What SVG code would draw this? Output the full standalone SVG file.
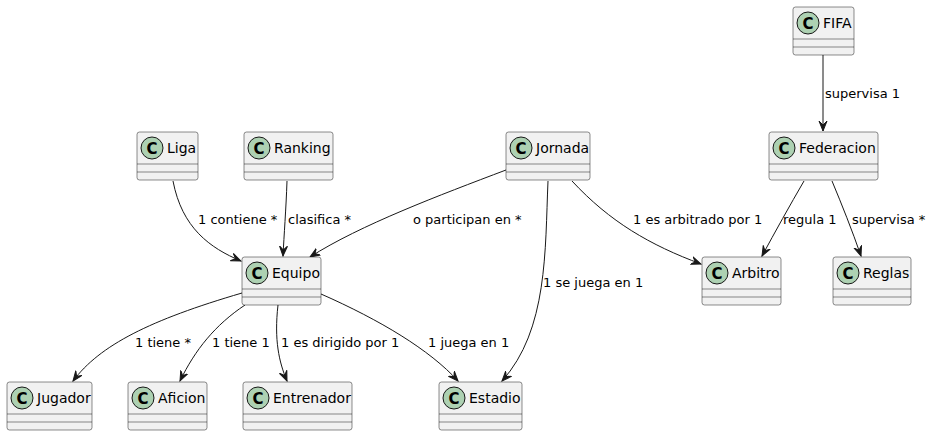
<svg xmlns="http://www.w3.org/2000/svg" width="931" height="436" viewBox="0 0 931 436">
<defs>
<style>
.box{fill:#F1F1F1;stroke:#181818;stroke-width:0.5}
.sep{stroke:#181818;stroke-width:0.5}
.ic{fill:#ADD1B2;stroke:#181818;stroke-width:1}
.icl{font-family:"DejaVu Sans",sans-serif;font-size:15px;font-weight:bold;fill:#000;text-anchor:middle}
.nm{font-family:"DejaVu Sans",sans-serif;font-size:14px;fill:#000}
.lb{font-family:"DejaVu Sans",sans-serif;font-size:13px;fill:#000}
.ln{fill:none;stroke:#181818;stroke-width:1;marker-end:url(#ah)}
</style>
<marker id="ah" markerUnits="userSpaceOnUse" markerWidth="20" markerHeight="20" viewBox="-10 -10 20 20" refX="0" refY="0" orient="auto">
<path d="M0,0 L-10,-4 L-6,0 L-10,4 Z" fill="#181818" stroke="#181818" stroke-width="1"/>
</marker>
</defs>
<rect width="931" height="436" fill="#FFFFFF"/>

<g id="connectors">
<path class="ln" d="M823,55 L823,131"/>
<path class="ln" d="M173,181 C182,228 210,248 241,261"/>
<path class="ln" d="M287,181 C286,210 284,235 283,256"/>
<path class="ln" d="M506,170 C440,195 360,225 310,257"/>
<path class="ln" d="M548,181 C545,250 548,330 502,381"/>
<path class="ln" d="M572,181 C610,222 650,245 701,264"/>
<path class="ln" d="M804,181 C790,205 775,232 762,256"/>
<path class="ln" d="M832,181 C842,205 852,230 861,256"/>
<path class="ln" d="M242,293 C150,320 100,345 73,381"/>
<path class="ln" d="M245,305 C215,325 195,350 180,381"/>
<path class="ln" d="M278,305 C274,340 279,362 287,381"/>
<path class="ln" d="M321,294 C380,320 430,350 458,381"/>
<text class="lb" x="825" y="98">supervisa 1</text>
<text class="lb" x="198" y="224">1 contiene *</text>
<text class="lb" x="288" y="224">clasifica *</text>
<text class="lb" x="413" y="224">o participan en *</text>
<text class="lb" x="633" y="224">1 es arbitrado por 1</text>
<text class="lb" x="783" y="224">regula 1</text>
<text class="lb" x="852" y="224">supervisa *</text>
<text class="lb" x="543" y="287">1 se juega en 1</text>
<text class="lb" x="135" y="347">1 tiene *</text>
<text class="lb" x="212" y="347">1 tiene 1</text>
<text class="lb" x="281" y="347">1 es dirigido por 1</text>
<text class="lb" x="428" y="347">1 juega en 1</text>
</g>

<g id="FIFA" transform="translate(793,7)">
<rect class="box" x="0" y="0" width="61" height="48" rx="2.5"/>
<line class="sep" x1="0" y1="32" x2="61" y2="32"/><line class="sep" x1="0" y1="40" x2="61" y2="40"/>
<circle class="ic" cx="15" cy="16" r="11"/><text class="icl" x="15" y="21.5">C</text>
<text class="nm" x="30" y="21">FIFA</text>
</g>
<g id="Liga" transform="translate(137,132)">
<rect class="box" x="0" y="0" width="61" height="48" rx="2.5"/>
<line class="sep" x1="0" y1="32" x2="61" y2="32"/><line class="sep" x1="0" y1="40" x2="61" y2="40"/>
<circle class="ic" cx="15" cy="16" r="11"/><text class="icl" x="15" y="21.5">C</text>
<text class="nm" x="30" y="21">Liga</text>
</g>
<g id="Ranking" transform="translate(244,132)">
<rect class="box" x="0" y="0" width="89" height="48" rx="2.5"/>
<line class="sep" x1="0" y1="32" x2="89" y2="32"/><line class="sep" x1="0" y1="40" x2="89" y2="40"/>
<circle class="ic" cx="15" cy="16" r="11"/><text class="icl" x="15" y="21.5">C</text>
<text class="nm" x="30" y="21">Ranking</text>
</g>
<g id="Jornada" transform="translate(506,132)">
<rect class="box" x="0" y="0" width="84" height="48" rx="2.5"/>
<line class="sep" x1="0" y1="32" x2="84" y2="32"/><line class="sep" x1="0" y1="40" x2="84" y2="40"/>
<circle class="ic" cx="15" cy="16" r="11"/><text class="icl" x="15" y="21.5">C</text>
<text class="nm" x="30" y="21">Jornada</text>
</g>
<g id="Federacion" transform="translate(769,132)">
<rect class="box" x="0" y="0" width="109" height="48" rx="2.5"/>
<line class="sep" x1="0" y1="32" x2="109" y2="32"/><line class="sep" x1="0" y1="40" x2="109" y2="40"/>
<circle class="ic" cx="15" cy="16" r="11"/><text class="icl" x="15" y="21.5">C</text>
<text class="nm" x="30" y="21">Federacion</text>
</g>
<g id="Equipo" transform="translate(242,257)">
<rect class="box" x="0" y="0" width="79" height="48" rx="2.5"/>
<line class="sep" x1="0" y1="32" x2="79" y2="32"/><line class="sep" x1="0" y1="40" x2="79" y2="40"/>
<circle class="ic" cx="15" cy="16" r="11"/><text class="icl" x="15" y="21.5">C</text>
<text class="nm" x="30" y="21">Equipo</text>
</g>
<g id="Arbitro" transform="translate(702,257)">
<rect class="box" x="0" y="0" width="79" height="48" rx="2.5"/>
<line class="sep" x1="0" y1="32" x2="79" y2="32"/><line class="sep" x1="0" y1="40" x2="79" y2="40"/>
<circle class="ic" cx="15" cy="16" r="11"/><text class="icl" x="15" y="21.5">C</text>
<text class="nm" x="30" y="21">Arbitro</text>
</g>
<g id="Reglas" transform="translate(833,257)">
<rect class="box" x="0" y="0" width="78" height="48" rx="2.5"/>
<line class="sep" x1="0" y1="32" x2="78" y2="32"/><line class="sep" x1="0" y1="40" x2="78" y2="40"/>
<circle class="ic" cx="15" cy="16" r="11"/><text class="icl" x="15" y="21.5">C</text>
<text class="nm" x="30" y="21">Reglas</text>
</g>
<g id="Jugador" transform="translate(7,382)">
<rect class="box" x="0" y="0" width="85" height="48" rx="2.5"/>
<line class="sep" x1="0" y1="32" x2="85" y2="32"/><line class="sep" x1="0" y1="40" x2="85" y2="40"/>
<circle class="ic" cx="15" cy="16" r="11"/><text class="icl" x="15" y="21.5">C</text>
<text class="nm" x="30" y="21">Jugador</text>
</g>
<g id="Aficion" transform="translate(128,382)">
<rect class="box" x="0" y="0" width="79" height="48" rx="2.5"/>
<line class="sep" x1="0" y1="32" x2="79" y2="32"/><line class="sep" x1="0" y1="40" x2="79" y2="40"/>
<circle class="ic" cx="15" cy="16" r="11"/><text class="icl" x="15" y="21.5">C</text>
<text class="nm" x="30" y="21">Aficion</text>
</g>
<g id="Entrenador" transform="translate(243,382)">
<rect class="box" x="0" y="0" width="109" height="48" rx="2.5"/>
<line class="sep" x1="0" y1="32" x2="109" y2="32"/><line class="sep" x1="0" y1="40" x2="109" y2="40"/>
<circle class="ic" cx="15" cy="16" r="11"/><text class="icl" x="15" y="21.5">C</text>
<text class="nm" x="30" y="21">Entrenador</text>
</g>
<g id="Estadio" transform="translate(439,382)">
<rect class="box" x="0" y="0" width="83" height="48" rx="2.5"/>
<line class="sep" x1="0" y1="32" x2="83" y2="32"/><line class="sep" x1="0" y1="40" x2="83" y2="40"/>
<circle class="ic" cx="15" cy="16" r="11"/><text class="icl" x="15" y="21.5">C</text>
<text class="nm" x="30" y="21">Estadio</text>
</g>
</svg>
